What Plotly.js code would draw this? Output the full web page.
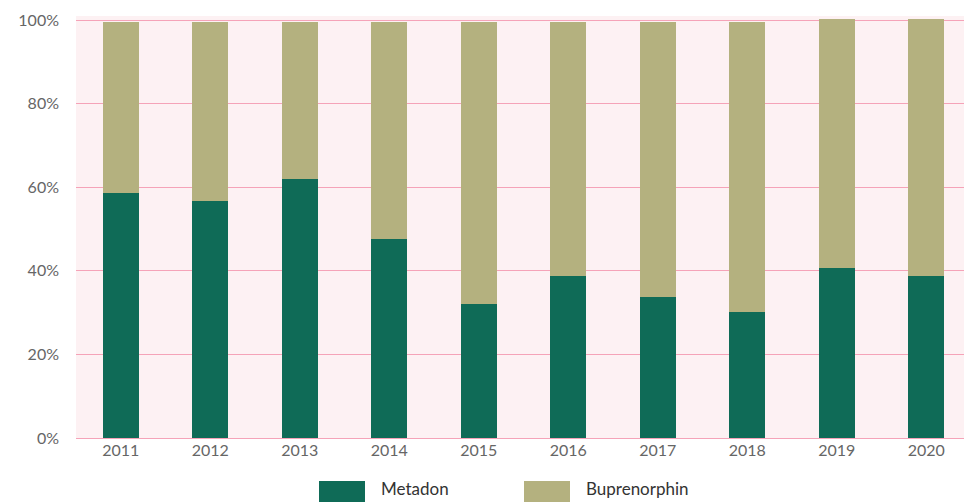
<!DOCTYPE html>
<html>
<head>
<meta charset="utf-8">
<script src="https://cdn.plot.ly/plotly-3.0.1.min.js"></script>
<style>
html,body{margin:0;padding:0;overflow:hidden;background:#fff;}
#chart{width:971px;height:502px;}
</style>
</head>
<body>
<div id="chart"></div>
<script>
const years = ['2011','2012','2013','2014','2015','2016','2017','2018','2019','2020'];
const metadon = [58.6, 56.7, 62.0, 47.6, 32.0, 38.8, 33.7, 30.1, 40.7, 38.7];
const buprenorphin = [41.0, 42.9, 37.6, 52.0, 67.6, 60.8, 65.9, 69.5, 59.6, 61.6];
const seriesNames = ['Metadon', 'Buprenorphin'];
const yTicks = [0, 20, 40, 60, 80, 100];
const yTickLabels = ['0%', '20%', '40%', '60%', '80%', '100%'];

const colors = ['#0f6b57', '#b4b17f'];
const font = 'Lato, "Open Sans", sans-serif';

const traces = [
  {type:'bar', x: years, y: metadon, name: seriesNames[0], marker:{color: colors[0], line:{width:0}}, hoverinfo:'skip'},
  {type:'bar', x: years, y: buprenorphin, name: seriesNames[1], marker:{color: colors[1], line:{width:0}}, hoverinfo:'skip'}
];

const legendX = [319, 524];
const shapes = [];
const annotations = [];
seriesNames.forEach((n, i) => {
  shapes.push({type:'rect', xref:'paper', yref:'paper', layer:'above',
    x0: (legendX[i] - 76) / 895, x1: (legendX[i] + 46 - 76) / 895,
    y0: -0.2, y1: -(481 - 438) / 422, fillcolor: colors[i], line:{width:0}});
  annotations.push({xref:'paper', yref:'paper', x: (legendX[i] + 60 - 76) / 895, y: -(501 - 438) / 422,
    xanchor:'left', yanchor:'bottom', text: n, showarrow:false,
    font:{family: font, size: 17, color:'#333'}});
});

const layout = {
  width: 971, height: 502,
  margin: {l: 76, r: 0, t: 16, b: 64},
  paper_bgcolor: '#ffffff',
  plot_bgcolor: '#fdf1f3',
  barmode: 'stack',
  bargap: 0.6,
  showlegend: false,
  xaxis: {
    type: 'category',
    tickfont: {family: font, size: 16, color: '#666'},
    showgrid: false, zeroline: false, showline: false,
    ticks: '', ticklabelstandoff: 1
  },
  yaxis: {
    range: [0, 101],
    tickvals: yTicks, ticktext: yTickLabels,
    tickfont: {family: font, size: 16, color: '#666'},
    showgrid: true, gridcolor: '#f5a3b8', gridwidth: 1,
    zeroline: true, zerolinecolor: '#f5a3b8', zerolinewidth: 1,
    showline: false, ticks: '', ticklabelstandoff: 16
  },
  shapes: shapes,
  annotations: annotations
};

Plotly.newPlot('chart', traces, layout, {displayModeBar: false, staticPlot: true});
</script>
</body>
</html>
